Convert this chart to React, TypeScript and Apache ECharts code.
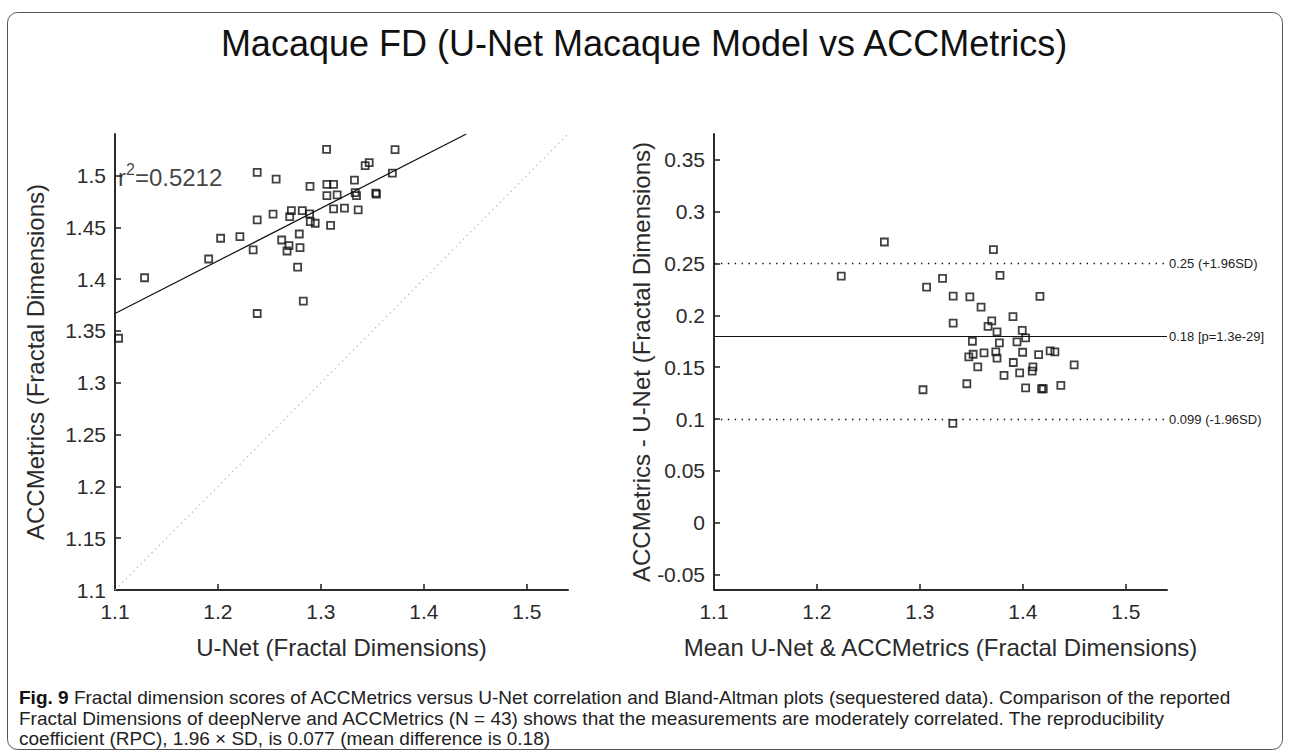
import React, { useEffect, useRef } from "react";
import * as echarts from "echarts";

// ---- Left panel: correlation (U-Net vs ACCMetrics fractal dimensions) ----
const unetFD = [
  1.3055, 1.2381, 1.2565, 1.2894, 1.3058, 1.3123, 1.3058, 1.3158, 1.3229, 1.3123,
  1.2819, 1.2713, 1.2697, 1.2535, 1.289, 1.2897, 1.2945, 1.3094, 1.2381, 1.2026,
  1.2213, 1.279, 1.2619, 1.269, 1.2671, 1.2342, 1.2797, 1.191, 1.2774, 1.1287,
  1.2829, 1.2381, 1.1035, 1.372, 1.3469, 1.343, 1.3694, 1.3326, 1.3333, 1.3346,
  1.3533, 1.3539, 1.3362,
];
const accFD = [
  1.5252, 1.5029, 1.4965, 1.4894, 1.4913, 1.4913, 1.4806, 1.4813, 1.4684, 1.4677,
  1.4661, 1.4661, 1.4603, 1.4626, 1.4629, 1.4555, 1.4539, 1.4519, 1.4571, 1.4394,
  1.441, 1.4435, 1.4377, 1.4323, 1.4271, 1.4281, 1.4303, 1.4194, 1.4116, 1.4013,
  1.3787, 1.3668, 1.3429, 1.525, 1.5123, 1.5094, 1.5022, 1.4955, 1.4835, 1.4806,
  1.4829, 1.4819, 1.4668,
];
const fitSlope = 0.5076;
const fitIntercept = 0.80844;
const r2Label = "0.5212";
const leftRange = [1.1, 1.54];
const leftXTicks = [1.1, 1.2, 1.3, 1.4, 1.5];
const leftYTicks = [1.1, 1.15, 1.2, 1.25, 1.3, 1.35, 1.4, 1.45, 1.5];

// ---- Right panel: Bland-Altman ----
const meanFD = [
  1.2655, 1.3714, 1.322, 1.3065, 1.3778, 1.3323, 1.3485, 1.4166, 1.3594, 1.3904,
  1.3323, 1.3698, 1.3662, 1.3749, 1.3994, 1.4027, 1.351, 1.3772, 1.3943, 1.3517,
  1.3475, 1.3623, 1.3737, 1.3749, 1.3998, 1.4153, 1.4265, 1.4311, 1.3562, 1.3907,
  1.4098, 1.4091, 1.3969, 1.3817, 1.4498, 1.3456, 1.4027, 1.4182, 1.4198, 1.4369,
  1.303, 1.332, 1.2236,
];
const diffFD = [
  0.2708, 0.2635, 0.2356, 0.2272, 0.2385, 0.2186, 0.2179, 0.2183, 0.208, 0.1987,
  0.1926, 0.1946, 0.1894, 0.184, 0.1856, 0.1782, 0.175, 0.1734, 0.1744, 0.1625,
  0.1599, 0.1638, 0.1647, 0.1587, 0.1644, 0.1622, 0.1657, 0.1647, 0.1503, 0.1545,
  0.1503, 0.1462, 0.1446, 0.142, 0.1522, 0.134, 0.1301, 0.1292, 0.1292, 0.1324,
  0.1282, 0.0958, 0.2378,
];
const baLines = [0.2528, 0.1758, 0.0988];
const baLineLabels = ["0.25 (+1.96SD)", "0.18 [p=1.3e-29]", "0.099 (-1.96SD)"];
const rightXRange = [1.1, 1.54];
const rightYRange = [-0.065, 0.375];
const rightXTicks = [1.1, 1.2, 1.3, 1.4, 1.5];
const rightYTicks = [-0.05, 0, 0.05, 0.1, 0.15, 0.2, 0.25, 0.3, 0.35];

const titleText = "Macaque FD (U-Net Macaque Model vs ACCMetrics)";
const leftXName = "U-Net (Fractal Dimensions)";
const leftYName = "ACCMetrics (Fractal Dimensions)";
const rightXName = "Mean U-Net & ACCMetrics (Fractal Dimensions)";
const rightYName = "ACCMetrics - U-Net (Fractal Dimensions)";
const captionLines = [
  "Fractal dimension scores of ACCMetrics versus U-Net correlation and Bland-Altman plots (sequestered data). Comparison of the reported",
  "Fractal Dimensions of deepNerve and ACCMetrics (N = 43) shows that the measurements are moderately correlated. The reproducibility",
  "coefficient (RPC), 1.96 \u00d7 SD, is 0.077 (mean difference is 0.18)",
];

const FONT = "Liberation Sans, Arial, sans-serif";
const AX = "#2b2b2b";

const fmt = (v: number) => String(+Number(v).toFixed(3));

function valueAxis(gridIndex: number, range: number[], ticks: number[], name: string, isY: boolean) {
  return {
    type: "value",
    gridIndex,
    min: range[0],
    max: range[1],
    name,
    nameLocation: "middle",
    nameGap: isY ? 68 : 45,
    nameRotate: isY ? 90 : 0,
    nameTextStyle: { fontFamily: FONT, fontSize: 24, color: AX },
    axisLine: { show: true, onZero: false, lineStyle: { color: AX, width: 2 } },
    axisTick: { show: true, inside: true, length: 6, customValues: ticks, lineStyle: { color: AX, width: 1.6 } },
    axisLabel: {
      show: true,
      customValues: ticks,
      formatter: (v: number) => fmt(v),
      fontFamily: FONT,
      fontSize: 21,
      color: AX,
      margin: isY ? 9 : 11,
    },
    splitLine: { show: false },
  };
}

export default function App() {
  const ref = useRef<HTMLDivElement>(null);
  useEffect(() => {
    if (!ref.current) return;
    const chart = echarts.init(ref.current, undefined, { renderer: "svg" });
    const fitEndX = (leftRange[1] - fitIntercept) / fitSlope;
    const sq = {
      type: "scatter",
      symbol: "rect",
      symbolSize: 7,
      itemStyle: { color: "rgba(0,0,0,0)", borderColor: "#111", borderWidth: 1.8 },
      silent: true,
    };
    const option: any = {
      animation: false,
      backgroundColor: "#ffffff",
      grid: [
        { left: 115, top: 134, width: 453, height: 456 },
        { left: 714, top: 134, width: 453, height: 456 },
      ],
      xAxis: [
        valueAxis(0, leftRange, leftXTicks, leftXName, false),
        valueAxis(1, rightXRange, rightXTicks, rightXName, false),
      ],
      yAxis: [
        valueAxis(0, leftRange, leftYTicks, leftYName, true),
        { ...valueAxis(1, rightYRange, rightYTicks, rightYName, true), nameGap: 59 },
      ],
      series: [
        {
          type: "line",
          xAxisIndex: 0,
          yAxisIndex: 0,
          data: [
            [leftRange[0], leftRange[0]],
            [leftRange[1], leftRange[1]],
          ],
          symbol: "none",
          lineStyle: { color: "#b0b0b0", width: 1.2, type: [1.2, 4] },
          silent: true,
        },
        {
          type: "line",
          xAxisIndex: 0,
          yAxisIndex: 0,
          data: [
            [leftRange[0], fitIntercept + fitSlope * leftRange[0]],
            [fitEndX, leftRange[1]],
          ],
          symbol: "none",
          lineStyle: { color: "#111", width: 1.2 },
          silent: true,
        },
        {
          ...sq,
          xAxisIndex: 0,
          yAxisIndex: 0,
          data: unetFD.map((x, i) => [x, accFD[i]]),
        },
        {
          type: "scatter",
          xAxisIndex: 0,
          yAxisIndex: 0,
          symbolSize: 0,
          data: [[1.1, 1.5]],
          label: {
            show: true,
            position: "right",
            distance: 3,
            formatter: "{a|r}{s|2}{a|=" + r2Label + "}",
            rich: {
              a: { fontFamily: FONT, fontSize: 24, color: "#111", lineHeight: 28, verticalAlign: "bottom" },
              s: { fontFamily: FONT, fontSize: 16, color: "#111", lineHeight: 16, verticalAlign: "top" },
            },
          },
          silent: true,
        },
        {
          ...sq,
          xAxisIndex: 1,
          yAxisIndex: 1,
          data: meanFD.map((x, i) => [x, diffFD[i]]),
          markLine: {
            silent: true,
            symbol: "none",
            animation: false,
            data: baLines.map((v, i) => ({
              yAxis: v,
              lineStyle: {
                color: "#111",
                width: i === 1 ? 1.2 : 1.3,
                type: i === 1 ? "solid" : [1.4, 5.5],
              },
              label: {
                show: true,
                position: "end",
                distance: 2,
                formatter: baLineLabels[i],
                fontFamily: FONT,
                fontSize: 13,
                color: "#222",
              },
            })),
          },
        },
      ],
      graphic: [
        {
          type: "rect",
          shape: { x: 7.5, y: 12.5, width: 1275, height: 737, r: 10 },
          style: { fill: "none", stroke: "#555", lineWidth: 1 },
          silent: true,
        },
        {
          type: "text",
          left: "center",
          top: 25,
          style: { text: titleText, fontFamily: FONT, fontSize: 36, fill: "#111" },
        },
        ...captionLines.map((t, i) => ({
          type: "text",
          left: 19,
          top: 688 + i * 20.5,
          style: {
            text: i === 0 ? "{b|Fig. 9} " + t : t,
            fontFamily: FONT,
            fontSize: 19,
            fill: "#222",
            rich: i === 0 ? { b: { fontFamily: FONT, fontSize: 19, fontWeight: "bold", fill: "#111" } } : undefined,
          },
        })),
      ],
    };
    chart.setOption(option);
    return () => chart.dispose();
  }, []);
  return (
    <div
      ref={ref}
      style={{ position: "absolute", left: 0, top: 0, width: 1290, height: 755, background: "#fff" }}
    />
  );
}
